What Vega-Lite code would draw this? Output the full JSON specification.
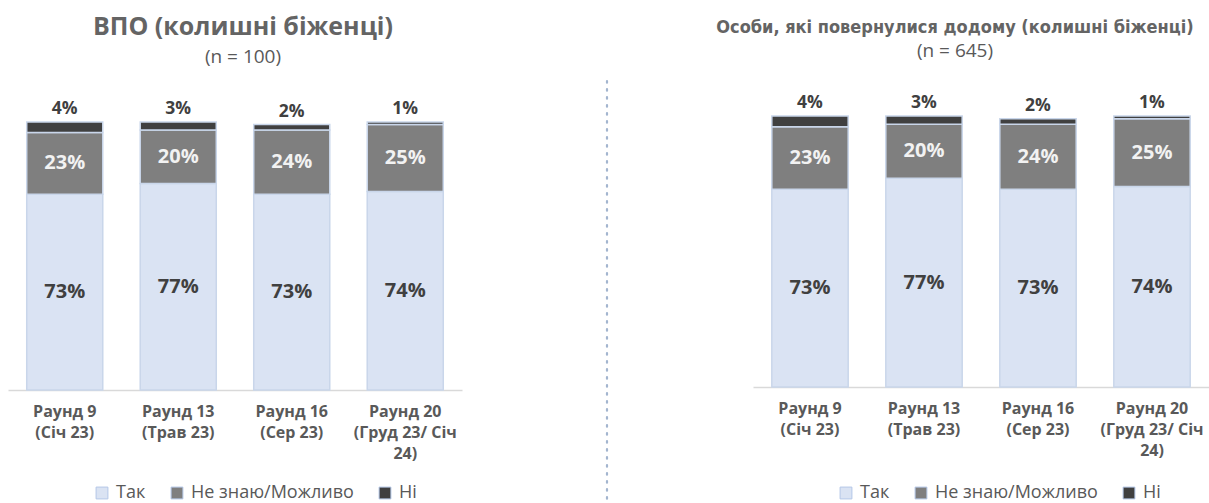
{
  "$schema": "https://vega.github.io/schema/vega-lite/v6.json",
  "background": "white",
  "padding": {"left": 8, "top": 14, "right": 0, "bottom": 0},
  "bounds": "flush",
  "spacing": 145,
  "datasets": {
    "vpo": [
      {"round": "Раунд 9|(Січ 23)", "answer": "Так", "ord": 1, "value": 73},
      {"round": "Раунд 9|(Січ 23)", "answer": "Не знаю/Можливо", "ord": 2, "value": 23},
      {"round": "Раунд 9|(Січ 23)", "answer": "Ні", "ord": 3, "value": 4},
      {"round": "Раунд 13|(Трав 23)", "answer": "Так", "ord": 1, "value": 77},
      {"round": "Раунд 13|(Трав 23)", "answer": "Не знаю/Можливо", "ord": 2, "value": 20},
      {"round": "Раунд 13|(Трав 23)", "answer": "Ні", "ord": 3, "value": 3},
      {"round": "Раунд 16|(Сер 23)", "answer": "Так", "ord": 1, "value": 73},
      {"round": "Раунд 16|(Сер 23)", "answer": "Не знаю/Можливо", "ord": 2, "value": 24},
      {"round": "Раунд 16|(Сер 23)", "answer": "Ні", "ord": 3, "value": 2},
      {"round": "Раунд 20|(Груд 23/ Січ|24)", "answer": "Так", "ord": 1, "value": 74},
      {"round": "Раунд 20|(Груд 23/ Січ|24)", "answer": "Не знаю/Можливо", "ord": 2, "value": 25},
      {"round": "Раунд 20|(Груд 23/ Січ|24)", "answer": "Ні", "ord": 3, "value": 1}
    ],
    "ret": [
      {"round": "Раунд 9|(Січ 23)", "answer": "Так", "ord": 1, "value": 73},
      {"round": "Раунд 9|(Січ 23)", "answer": "Не знаю/Можливо", "ord": 2, "value": 23},
      {"round": "Раунд 9|(Січ 23)", "answer": "Ні", "ord": 3, "value": 4},
      {"round": "Раунд 13|(Трав 23)", "answer": "Так", "ord": 1, "value": 77},
      {"round": "Раунд 13|(Трав 23)", "answer": "Не знаю/Можливо", "ord": 2, "value": 20},
      {"round": "Раунд 13|(Трав 23)", "answer": "Ні", "ord": 3, "value": 3},
      {"round": "Раунд 16|(Сер 23)", "answer": "Так", "ord": 1, "value": 73},
      {"round": "Раунд 16|(Сер 23)", "answer": "Не знаю/Можливо", "ord": 2, "value": 24},
      {"round": "Раунд 16|(Сер 23)", "answer": "Ні", "ord": 3, "value": 2},
      {"round": "Раунд 20|(Груд 23/ Січ|24)", "answer": "Так", "ord": 1, "value": 74},
      {"round": "Раунд 20|(Груд 23/ Січ|24)", "answer": "Не знаю/Можливо", "ord": 2, "value": 25},
      {"round": "Раунд 20|(Груд 23/ Січ|24)", "answer": "Ні", "ord": 3, "value": 1}
    ]
  },
  "hconcat": [
    {
      "width": 454,
      "height": 274,
      "data": {"name": "vpo"},
      "title": {
        "text": "ВПО (колишні біженці)",
        "subtitle": "(n = 100)",
        "font": "Open Sans",
        "fontSize": 25,
        "fontWeight": "bold",
        "color": "#646464",
        "subtitleFont": "Open Sans",
        "subtitleFontSize": 19,
        "subtitleColor": "#595959",
        "subtitlePadding": 8,
        "anchor": "middle",
        "dx": 8,
        "offset": 33
      },
      "transform": [
        {"stack": "value", "groupby": ["round"], "sort": [{"field": "ord", "order": "ascending"}], "as": ["y0", "y1"]},
        {"calculate": "(datum.y0 + datum.y1) / 2", "as": "ymid"},
        {"calculate": "datum.value + '%'", "as": "label"}
      ],
      "encoding": {
        "x": {
          "field": "round", "type": "nominal", "sort": null,
          "scale": {"paddingInner": 0.33, "paddingOuter": 0.165},
          "axis": {
            "title": null, "labelAngle": 0, "labelExpr": "split(datum.label, '|')",
            "labelFont": "Open Sans", "labelFontSize": 16, "labelFontWeight": "bold",
            "labelColor": "#595959", "labelLineHeight": 21, "labelPadding": 13,
            "labelLimit": 300, "ticks": false, "domainColor": "#d9d9d9", "domainWidth": 1.5
          }
        }
      },
      "layer": [
        {
          "mark": {"type": "bar", "stroke": "#c9d6ea", "strokeWidth": 1.5},
          "encoding": {
            "y": {"field": "y0", "type": "quantitative", "scale": {"domain": [0, 102.2], "nice": false}, "axis": null},
            "y2": {"field": "y1"},
            "color": {
              "field": "answer", "type": "nominal",
              "scale": {"domain": ["Так", "Не знаю/Можливо", "Ні"], "range": ["#dae3f3", "#7f7f7f", "#404040"]},
              "legend": {
                "title": null, "orient": "none", "legendX": 85, "legendY": 368, "direction": "horizontal",
                "symbolType": "square", "symbolSize": 140, "symbolStrokeColor": "#b4c7e7", "symbolStrokeWidth": 1,
                "labelFont": "Open Sans", "labelFontSize": 18, "labelColor": "#595959", "labelLimit": 400,
                "labelOffset": 5, "columnPadding": 22
              }
            }
          }
        },
        {
          "transform": [{"filter": "datum.answer !== 'Ні'"}],
          "mark": {"type": "text", "font": "Open Sans", "fontSize": 20, "fontWeight": "bold"},
          "encoding": {
            "y": {"field": "ymid", "type": "quantitative", "axis": null},
            "text": {"field": "label"},
            "color": {"condition": {"test": "datum.answer === 'Так'", "value": "#404040"}, "value": "#f2f2f2"}
          }
        },
        {
          "transform": [{"filter": "datum.answer === 'Ні'"}],
          "mark": {"type": "text", "font": "Open Sans", "fontSize": 17.5, "fontWeight": "bold", "baseline": "bottom", "dy": -4, "color": "#404040"},
          "encoding": {
            "y": {"field": "y1", "type": "quantitative", "axis": null},
            "text": {"field": "label"}
          }
        }
      ]
    },
    {
      "width": 1,
      "height": 387,
      "data": {"values": [{}]},
      "mark": {"type": "rule", "strokeDash": [1.5, 6.5], "strokeWidth": 2.2, "color": "#a3b5cf", "strokeCap": "round"},
      "encoding": {
        "x": {"datum": 0, "axis": null},
        "y": {"datum": 1.09, "type": "quantitative", "scale": {"domain": [0, 1], "nice": false}, "axis": null},
        "y2": {"datum": 0}
      }
    },
    {
      "width": 456,
      "height": 271,
      "data": {"name": "ret"},
      "title": {
        "text": "Особи, які повернулися додому (колишні біженці)",
        "subtitle": "(n = 645)",
        "font": "DejaVu Sans Condensed",
        "fontSize": 18,
        "fontWeight": "bold",
        "color": "#646464",
        "subtitleFont": "Open Sans",
        "subtitleFontSize": 19,
        "subtitleColor": "#595959",
        "subtitlePadding": 5,
        "anchor": "middle",
        "dx": -26,
        "offset": 33
      },
      "transform": [
        {"stack": "value", "groupby": ["round"], "sort": [{"field": "ord", "order": "ascending"}], "as": ["y0", "y1"]},
        {"calculate": "(datum.y0 + datum.y1) / 2", "as": "ymid"},
        {"calculate": "datum.value + '%'", "as": "label"}
      ],
      "encoding": {
        "x": {
          "field": "round", "type": "nominal", "sort": null,
          "scale": {"paddingInner": 0.33, "paddingOuter": 0.165},
          "axis": {
            "title": null, "labelAngle": 0, "labelExpr": "split(datum.label, '|')",
            "labelFont": "Open Sans", "labelFontSize": 16, "labelFontWeight": "bold",
            "labelColor": "#595959", "labelLineHeight": 21, "labelPadding": 13,
            "labelLimit": 300, "ticks": false, "domainColor": "#d9d9d9", "domainWidth": 1.5
          }
        }
      },
      "layer": [
        {
          "mark": {"type": "bar", "stroke": "#c9d6ea", "strokeWidth": 1.5},
          "encoding": {
            "y": {"field": "y0", "type": "quantitative", "scale": {"domain": [0, 100], "nice": false}, "axis": null},
            "y2": {"field": "y1"},
            "color": {
              "field": "answer", "type": "nominal",
              "scale": {"domain": ["Так", "Не знаю/Можливо", "Ні"], "range": ["#dae3f3", "#7f7f7f", "#404040"]},
              "legend": {
                "title": null, "orient": "none", "legendX": 84, "legendY": 368, "direction": "horizontal",
                "symbolType": "square", "symbolSize": 140, "symbolStrokeColor": "#b4c7e7", "symbolStrokeWidth": 1,
                "labelFont": "Open Sans", "labelFontSize": 18, "labelColor": "#595959", "labelLimit": 400,
                "labelOffset": 5, "columnPadding": 22
              }
            }
          }
        },
        {
          "transform": [{"filter": "datum.answer !== 'Ні'"}],
          "mark": {"type": "text", "font": "Open Sans", "fontSize": 20, "fontWeight": "bold"},
          "encoding": {
            "y": {"field": "ymid", "type": "quantitative", "axis": null},
            "text": {"field": "label"},
            "color": {"condition": {"test": "datum.answer === 'Так'", "value": "#404040"}, "value": "#f2f2f2"}
          }
        },
        {
          "transform": [{"filter": "datum.answer === 'Ні'"}],
          "mark": {"type": "text", "font": "Open Sans", "fontSize": 17.5, "fontWeight": "bold", "baseline": "bottom", "dy": -4, "color": "#404040"},
          "encoding": {
            "y": {"field": "y1", "type": "quantitative", "axis": null},
            "text": {"field": "label"}
          }
        }
      ]
    }
  ],
  "resolve": {"scale": {"color": "independent", "x": "independent", "y": "independent"}, "legend": {"color": "independent"}},
  "config": {"view": {"stroke": null}, "font": "Open Sans"}
}
